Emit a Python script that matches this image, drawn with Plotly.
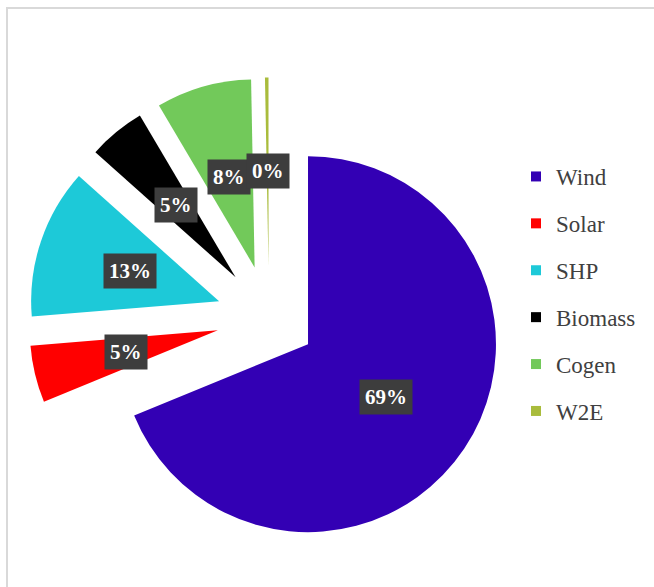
import math
import plotly.graph_objects as go

# ---- data ----
labels = ["Wind", "Solar", "SHP", "Biomass", "Cogen", "W2E"]
values = [68.8, 4.9, 12.9, 4.9, 8.2, 0.3]
pulls = [0.25, 0.28, 0.28, 0.28, 0.28, 0.28]
colors = ["#3300B4", "#FF0000", "#1DC9D8", "#000000", "#72C95A", "#A9BC3C"]

W, H = 654, 587
dom_x = [0.0434, 0.7792]
dom_y = [0.0484, 0.8681]
label_frac = 0.5
SERIF = "Liberation Serif, DejaVu Serif, serif"

fig = go.Figure()
fig.add_trace(go.Pie(
    labels=labels, values=values, pull=pulls,
    marker=dict(colors=colors, line=dict(width=0)),
    sort=False, direction="clockwise", rotation=0,
    textinfo="none", hoverinfo="skip", showlegend=False,
    domain=dict(x=dom_x, y=dom_y),
))

# legend entries (one per category, so spacing can match)
for lab, col in zip(labels, colors):
    fig.add_trace(go.Scatter(
        x=[None], y=[None], mode="markers", name=lab, legendgroup=lab,
        marker=dict(symbol="square", size=10, color=col),
    ))

# percentage labels placed from the pie geometry
total = sum(values)
maxpull = max(pulls)
cx = W * (dom_x[0] + dom_x[1]) / 2
cy = H * (1 - (dom_y[0] + dom_y[1]) / 2)
r = min(W * (dom_x[1] - dom_x[0]), H * (dom_y[1] - dom_y[0])) / 2 / (1 + maxpull)
annotations = []
cum = 0.0
for v, p in zip(values, pulls):
    mid = (cum + v / 2) / total * 2 * math.pi
    cum += v
    d = p * r + label_frac * r
    px = cx + d * math.sin(mid)
    py = cy - d * math.cos(mid)
    annotations.append(dict(
        x=px / W, y=1 - py / H, xref="paper", yref="paper",
        xanchor="center", yanchor="middle",
        text=f"{round(v)}%", showarrow=False,
        font=dict(family=SERIF, size=21, color="white", weight="bold"),
        bgcolor="#3D3D3D", borderpad=5,
    ))

fig.update_layout(
    width=W, height=H,
    margin=dict(l=0, r=0, t=0, b=0),
    paper_bgcolor="white", plot_bgcolor="white",
    xaxis=dict(visible=False), yaxis=dict(visible=False),
    annotations=annotations,
    legend=dict(
        x=0.789, y=1 - 155 / H, xanchor="left", yanchor="top",
        font=dict(family=SERIF, size=23, color="#404040"),
        tracegroupgap=14, itemclick=False,
    ),
    shapes=[dict(type="rect", xref="paper", yref="paper",
                 x0=7 / W, x1=1.02, y0=-0.02, y1=1 - 8 / H,
                 line=dict(color="#D9D9D9", width=2), layer="below")],
)

fig.write_html("out.html")
